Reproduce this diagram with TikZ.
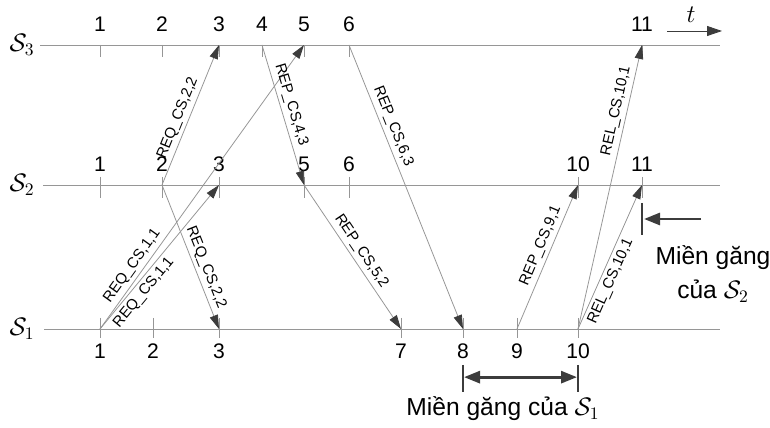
\documentclass[tikz,border=0pt]{standalone}
\usepackage{fontspec}
\setmainfont{Liberation Sans}
\usetikzlibrary{arrows.meta, positioning, calc}
\definecolor{linecolor}{RGB}{150,150,150}
\definecolor{headcolor}{RGB}{60,60,60}

\begin{document}
\begin{tikzpicture}[
    x=0.02cm, y=-0.02cm,
    axis/.style={draw=linecolor, line width=0.5pt},
    tick/.style={draw=linecolor, line width=0.5pt},
    msg/.style={draw=linecolor, line width=0.45pt, -{Triangle[length=0.28cm, width=0.17cm, color=headcolor]}},
    mlbl/.style={font=\fontsize{8.5}{9}\selectfont, sloped, inner sep=2pt},
    num/.style={font=\fontsize{12}{12}\selectfont, inner sep=1pt},
    proc/.style={font=\fontsize{14}{14}\selectfont},
    bar/.style={draw=headcolor, line width=1.3pt},
    zone/.style={draw=headcolor, line width=1.6pt},
    note/.style={font=\fontsize{14}{19}\selectfont, align=center}
  ]
  \useasboundingbox (0,0) rectangle (770,428);

  % process lines
  \node[proc] (p3) at (22,45) {$\mathcal{S}_3$};
  \node[proc] (p2) at (22,185) {$\mathcal{S}_2$};
  \node[proc] (p1) at (22,329) {$\mathcal{S}_1$};
  \draw[axis] (40,45) -- (720,45);
  \draw[axis] (43,185) -- (720,185);
  \draw[axis] (44,329) -- (720,329);

  % time arrow
  \coordinate (tstart) at (667,31);
  \coordinate (tend) at (722,31);
  \draw[draw=headcolor, line width=0.5pt, -{Triangle[length=0.3cm, width=0.2cm, color=headcolor]}] (tstart) -- (tend);
  \node[font=\fontsize{15}{15}\selectfont] (tlbl) at (691,15) {$t$};

  % events on S3
  \foreach \x/\n in {100/1, 162/2, 219/3, 262/4, 304/5, 349/6, 642/11} {
    \coordinate (c\n) at (\x,45);
    \draw[tick] (c\n) -- ++(0,12);
    \node[num] (c\n-lbl) at (\x,24) {\n};
  }
  % events on S2
  \foreach \x/\n in {100/1, 162/2, 219/3, 304/5, 349/6, 578/10, 642/11} {
    \coordinate (b\n) at (\x,185);
    \draw[tick] (\x,177) -- (\x,198);
    \node[num] (b\n-lbl) at (\x,164) {\n};
  }
  % events on S1
  \foreach \x/\n in {100/1, 153/2, 219/3, 401/7, 463/8, 517/9, 578/10} {
    \coordinate (a\n) at (\x,329);
    \draw[tick] (\x,318) -- (\x,338);
    \node[num] (a\n-lbl) at (\x,351) {\n};
  }

  % messages
  \draw[msg] (b2) -- node[mlbl, above, pos=0.45] {REQ\_CS,2,2} (c3);
  \draw[msg] (b2) -- node[mlbl, above, pos=0.6] {REQ\_CS,2,2} (a3);
  \draw[msg] (a1) -- node[mlbl, above, pos=0.2] {REQ\_CS,1,1} (c5);
  \draw[msg] (a1) -- node[mlbl, below, pos=0.3] {REQ\_CS,1,1} (b3);
  \draw[msg] (c4) -- node[mlbl, above, pos=0.45] {REP\_CS,4,3} (b5);
  \draw[msg] (c6) -- node[mlbl, above, pos=0.3] {REP\_CS,6,3} (a8);
  \draw[msg] (b5) -- node[mlbl, above, pos=0.5] {REP\_CS,5,2} (a7);
  \draw[msg] (a9) -- node[mlbl, above, pos=0.55] {REP\_CS,9,1} (b10);
  \draw[msg] (a10) -- node[mlbl, above, pos=0.76] {REL\_CS,10,1} (c11);
  \draw[msg] (a10) -- node[mlbl, below, pos=0.36] {REL\_CS,10,1} (b11);

  % critical section of S2
  \coordinate (cs2top) at (642,203);
  \coordinate (cs2bot) at (642,235);
  \coordinate (cs2from) at (701,219);
  \coordinate (cs2to) at (644,219);
  \draw[bar] (cs2top) -- (cs2bot);
  \draw[zone, -{Triangle[length=0.32cm, width=0.24cm]}] (cs2from) -- (cs2to);
  \node[note] (cs2lbl) at (713,274) {Miền găng\\của $\mathcal{S}_2$};

  % critical section of S1
  \coordinate (cs1ltop) at (463,365);
  \coordinate (cs1lbot) at (463,392);
  \coordinate (cs1rtop) at (578,365);
  \coordinate (cs1rbot) at (578,392);
  \draw[bar] (cs1ltop) -- (cs1lbot);
  \draw[bar] (cs1rtop) -- (cs1rbot);
  \draw[zone, {Triangle[length=0.32cm, width=0.24cm]}-{Triangle[length=0.32cm, width=0.24cm]}] ($(cs1ltop)!0.45!(cs1lbot)+(1,0)$) -- ($(cs1rtop)!0.45!(cs1rbot)-(1,0)$);
  \node[note] (cs1lbl) at (503,409) {Miền găng của $\mathcal{S}_1$};
\end{tikzpicture}
\end{document}
